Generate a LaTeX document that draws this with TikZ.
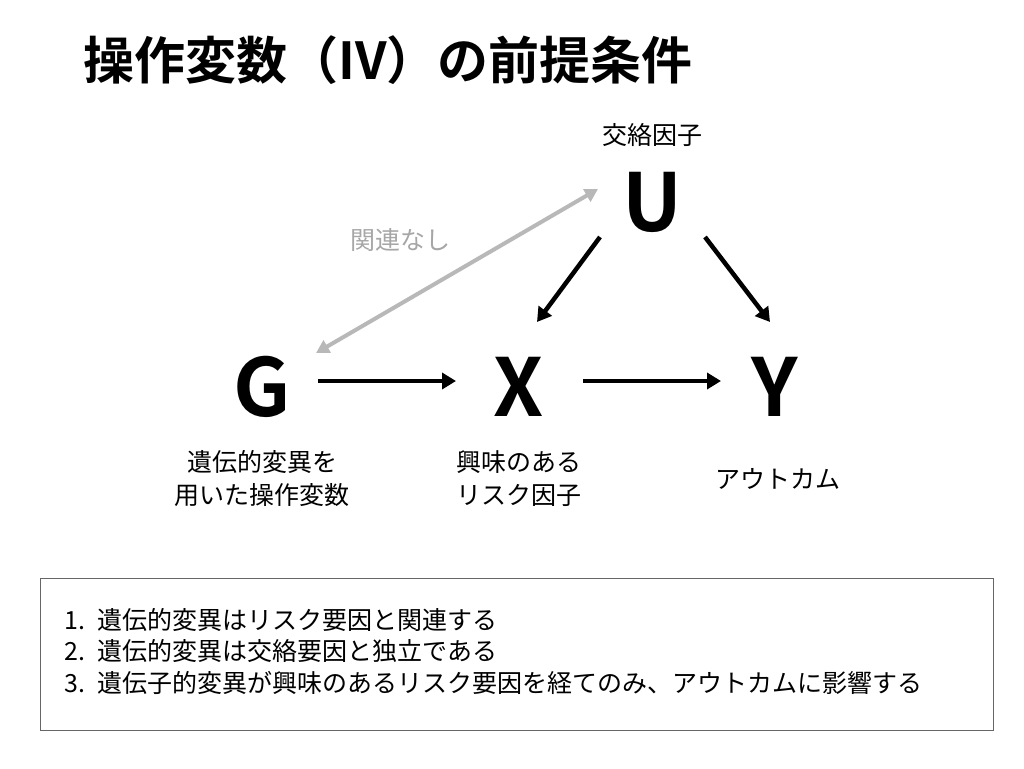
\documentclass[tikz,border=0pt]{standalone}
\usepackage{fontspec}
\newfontfamily\jp{Noto Sans CJK JP}
\newfontfamily\jpb{Noto Sans CJK JP Bold}
\usetikzlibrary{arrows.meta}
\begin{document}
\begin{tikzpicture}[x=1pt,y=-1pt,
  big/.style={font=\jpb\fontsize{80}{84}\selectfont,inner sep=0pt},
  lbl/.style={font=\jp\fontsize{25}{33}\selectfont,align=center,inner sep=0pt},
  arr/.style={line width=4.5pt,-{Triangle[length=14pt,width=16pt]}},
  garr/.style={line width=4pt,draw=black!28,{Triangle[length=13pt,width=14pt]}-{Triangle[length=13pt,width=14pt]}}]
\useasboundingbox (0,0) rectangle (1024,768);
\node[anchor=west,font=\jpb\fontsize{51}{56}\selectfont,inner sep=0pt] (t) at (83,60) {操作変数（IV）の前提条件};
\node[big] (U) at (652,202) {U};
\node[big] (G) at (262,387) {G};
\node[big] (X) at (519,387) {X};
\node[big] (Y) at (775,387) {Y};
\coordinate (u1) at (600,237); \coordinate (x1) at (537,322);
\coordinate (u2) at (705,237); \coordinate (y1) at (770,322);
\coordinate (g1) at (318,381); \coordinate (x2) at (456,381);
\coordinate (x3) at (583,381); \coordinate (y2) at (721,381);
\coordinate (g2) at (316,353); \coordinate (u3) at (598,189);
\draw[arr] (u1) -- (x1);
\draw[arr] (u2) -- (y1);
\draw[arr] (g1) -- (x2);
\draw[arr] (x3) -- (y2);
\draw[garr] (g2) -- (u3);
\node[lbl] (cf) at (652,135) {交絡因子};
\node[lbl,text=black!35] (nr) at (400,240) {関連なし};
\node[lbl] (gl) at (262,479) {遺伝的変異を\\用いた操作変数};
\node[lbl] (xl) at (519,479) {興味のある\\リスク因子};
\node[lbl] (yl) at (778,479) {アウトカム};
\node[draw=black!60,line width=1pt,minimum width=953pt,minimum height=152pt,anchor=north west,inner sep=0pt] (box) at (40,578) {};
\node[anchor=north west,font=\jp\fontsize{25}{31.5}\selectfont,align=left,inner sep=0pt] (list) at (64,608)
{1.\enspace 遺伝的変異はリスク要因と関連する\\2.\enspace 遺伝的変異は交絡要因と独立である\\3.\enspace 遺伝子的変異が興味のあるリスク要因を経てのみ、アウトカムに影響する};
\end{tikzpicture}
\end{document}
